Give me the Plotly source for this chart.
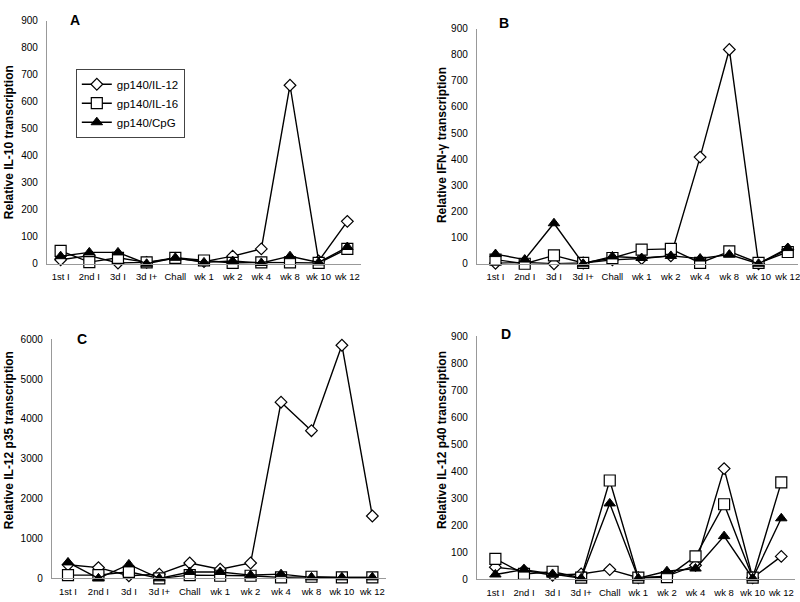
import plotly.graph_objects as go

categories = ["1st I", "2nd I", "3d I", "3d I+", "Chall", "wk 1", "wk 2", "wk 4", "wk 8", "wk 10", "wk 12"]
series_names = ["gp140/IL-12", "gp140/IL-16", "gp140/CpG"]

# Panel A: IL-10
a_il12 = [15, 30, 3, 5, 20, 8, 28, 55, 661, 10, 157]
a_il16 = [48, 6, 22, 5, 22, 12, 3, 5, 5, 3, 55]
a_cpg = [28, 42, 42, 0, 22, 5, 10, 3, 28, 5, 62]

# Panel B: IFN-gamma
b_il12 = [2, 5, 0, 3, 15, 20, 30, 408, 820, 0, 55]
b_il16 = [16, 0, 32, 3, 22, 54, 57, 3, 47, 3, 45]
b_cpg = [37, 16, 155, 0, 28, 22, 30, 20, 35, 0, 60]

# Panel C: IL-12 p35
c_il12 = [340, 270, 65, 105, 385, 230, 385, 4420, 3705, 5850, 1565]
c_il16 = [80, 80, 165, 0, 80, 65, 65, 25, 40, 25, 25]
c_cpg = [400, 0, 350, 0, 160, 160, 80, 105, 25, 25, 25]

# Panel D: IL-12 p40
d_il12 = [45, 33, 15, 20, 36, 6, 12, 52, 410, 6, 85]
d_il16 = [76, 20, 28, 6, 366, 6, 8, 85, 278, 6, 359]
d_cpg = [18, 36, 20, 4, 281, 4, 30, 40, 160, 4, 226]

panel_letters = ["A", "B", "C", "D"]
y_titles = ["Relative IL-10 transcription", "Relative IFN-\u03b3 transcription",
            "Relative IL-12 p35 transcription", "Relative IL-12 p40 transcription"]
y_max = [900, 900, 6000, 900]
y_dtick = [100, 100, 1000, 100]

W, H = 800, 602
def px_x(p): return p / W
def px_y(p): return 1 - p / H

# layout geometry (pixels in the final screenshot)
geo = [
    dict(x0=47, x1=362, y0=263, y1=15, rng=[-0.48, 10.48], xa="x", ya="y"),
    dict(x0=478, x1=800, y0=263, y1=23, rng=[-0.64, 10.35], xa="x2", ya="y2"),
    dict(x0=52, x1=387, y0=584, y1=340, rng=[-0.53, 10.45], xa="x3", ya="y3"),
    dict(x0=478, x1=797, y0=585, y1=337, rng=[-0.65, 10.48], xa="x4", ya="y4"),
]
letter_pos = [(75, 14), (505, 17), (82, 340), (507, 335)]
title_pos = [(9, 139), (443, 142), (9, 443), (443, 443)]

data = [(a_il12, a_il16, a_cpg), (b_il12, b_il16, b_cpg),
        (c_il12, c_il16, c_cpg), (d_il12, d_il16, d_cpg)]

marker_styles = [
    dict(symbol="diamond", size=9, color="white", line=dict(color="black", width=1.2)),
    dict(symbol="square", size=11, color="white", line=dict(color="black", width=1.2)),
    dict(symbol="triangle-up", size=10, color="black", line=dict(color="black", width=1)),
]

fig = go.Figure()
for p, (g, vals) in enumerate(zip(geo, data)):
    for s, v in enumerate(vals):
        fig.add_trace(go.Scatter(
            x=categories, y=v, mode="lines+markers", name=series_names[s],
            line=dict(color="black", width=1.4),
            marker=marker_styles[s],
            xaxis=g["xa"], yaxis=g["ya"], showlegend=(p == 0), cliponaxis=False,
        ))

layout = dict(
    width=W, height=H, margin=dict(l=0, r=0, t=0, b=0),
    paper_bgcolor="white", plot_bgcolor="white",
    font=dict(family="Arial, Liberation Sans, sans-serif", color="black"),
    legend=dict(x=px_x(76), y=px_y(64), xanchor="left", yanchor="top",
                bordercolor="#444", borderwidth=1, bgcolor="white",
                font=dict(size=11.5), itemwidth=30, tracegroupgap=0),
    annotations=[],
)
for p, g in enumerate(geo):
    suffix = "" if p == 0 else str(p + 1)
    layout["xaxis" + suffix] = dict(
        domain=[px_x(g["x0"]), min(1.0, px_x(g["x1"]))], anchor=g["ya"], type="category",
        range=g["rng"], showgrid=False, zeroline=False, showline=True,
        linecolor="#999", linewidth=1, ticks="", tickfont=dict(size=9.5),
        ticklabelstandoff=4, fixedrange=True,
    )
    layout["yaxis" + suffix] = dict(
        domain=[px_y(g["y0"]), px_y(g["y1"])], anchor=g["xa"],
        range=[0, y_max[p]], dtick=y_dtick[p], showgrid=False, zeroline=False,
        showline=True, linecolor="#999", linewidth=1, ticks="",
        tickfont=dict(size=10), ticklabelstandoff=6,
    )
    lx, ly = letter_pos[p]
    layout["annotations"].append(dict(
        x=px_x(lx), y=px_y(ly), xref="paper", yref="paper", text="<b>%s</b>" % panel_letters[p],
        showarrow=False, font=dict(size=14), xanchor="center", yanchor="middle"))
    tx, ty = title_pos[p]
    layout["annotations"].append(dict(
        x=px_x(tx), y=px_y(ty), xref="paper", yref="paper", text="<b>%s</b>" % y_titles[p],
        showarrow=False, textangle=-90, font=dict(size=12), xanchor="center", yanchor="middle"))

fig.update_layout(**layout)
fig.write_html("out.html", config={"displayModeBar": False},
               post_script="document.body.style.margin='0';document.body.style.overflow='hidden';")
